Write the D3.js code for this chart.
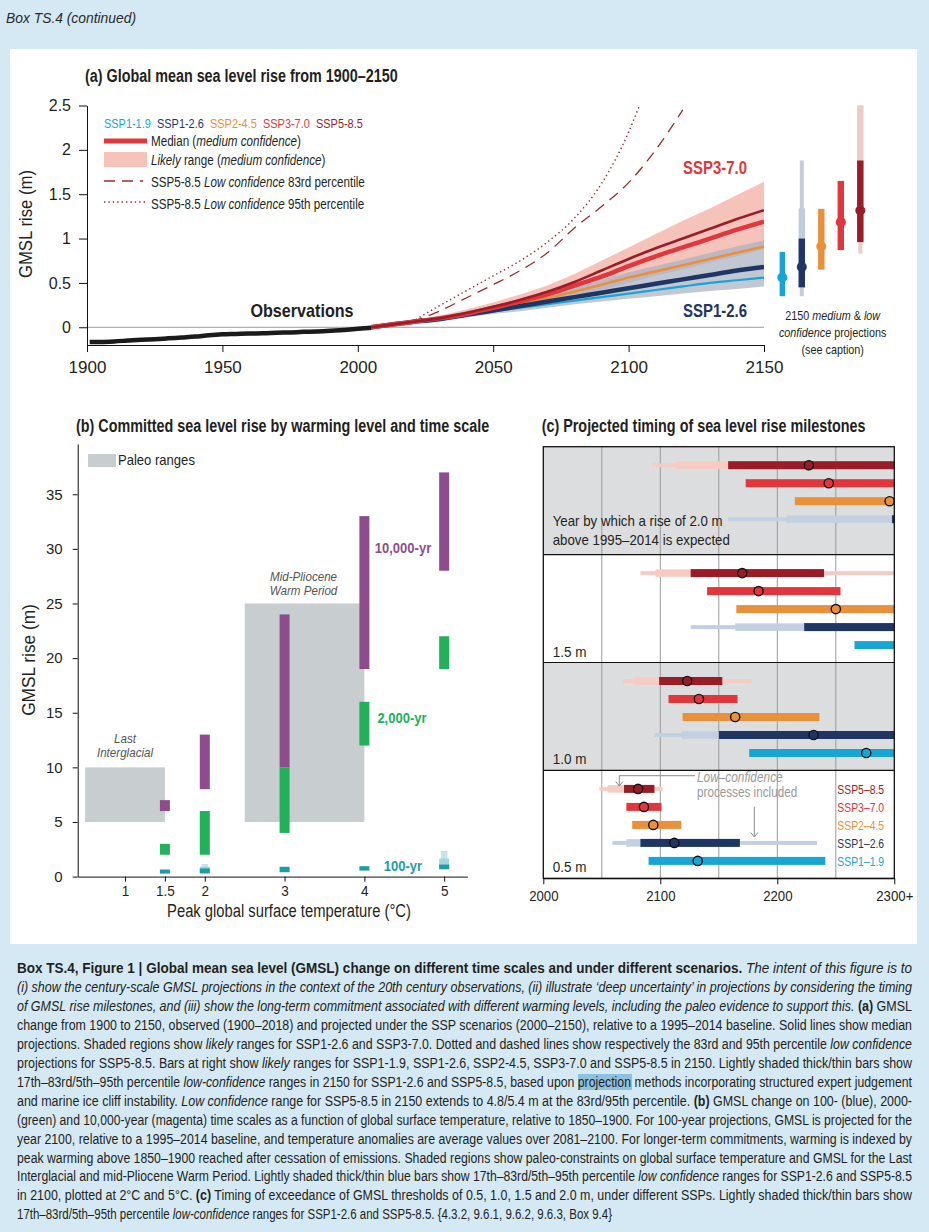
<!DOCTYPE html>
<html>
<head>
<meta charset="utf-8">
<script src="https://cdnjs.cloudflare.com/ajax/libs/d3/7.8.5/d3.min.js"></script>
<style>
body { margin: 0; background: #d5e9f4; }
svg { display: block; }
</style>
</head>
<body>
<div class="graphic"></div>
<script>
var NARROW = '"Liberation Sans Narrow", "Arial Narrow", "Liberation Sans", Arial, sans-serif';
var ARIAL = '"Liberation Sans", Arial, sans-serif';
var INK = "#231f20";

// ---------- panel (a) data ----------
var ssps = ["SSP1-1.9", "SSP1-2.6", "SSP2-4.5", "SSP3-7.0", "SSP5-8.5"];
var sspColors = ["#17a6d3", "#1f3563", "#e9903a", "#e0363c", "#991d27"];
var aYTicks = [0, 0.5, 1, 1.5, 2, 2.5];
var aXTicks = [1900, 1950, 2000, 2050, 2100, 2150];

var obsYears = [1901, 1905, 1910, 1915, 1920, 1925, 1930, 1935, 1940, 1945, 1950, 1955, 1960, 1965, 1970, 1975, 1980, 1985, 1990, 1995, 2000, 2005];
var obsValues = [-0.165, -0.165, -0.16, -0.15, -0.14, -0.135, -0.125, -0.115, -0.105, -0.09, -0.08, -0.075, -0.07, -0.068, -0.062, -0.058, -0.052, -0.048, -0.04, -0.03, -0.018, -0.005];

var projYears = [2005, 2020, 2030, 2040, 2050, 2060, 2070, 2080, 2090, 2100, 2110, 2120, 2130, 2140, 2150];
var med119 = [0, 0.06, 0.09, 0.13, 0.18, 0.22, 0.26, 0.30, 0.34, 0.38, 0.42, 0.46, 0.50, 0.53, 0.56];
var med126 = [0, 0.06, 0.09, 0.14, 0.19, 0.24, 0.29, 0.34, 0.39, 0.44, 0.49, 0.54, 0.59, 0.64, 0.68];
var med245 = [0, 0.06, 0.09, 0.14, 0.20, 0.26, 0.33, 0.40, 0.48, 0.56, 0.63, 0.70, 0.77, 0.84, 0.91];
var med370 = [0, 0.06, 0.10, 0.15, 0.22, 0.29, 0.37, 0.47, 0.57, 0.69, 0.80, 0.90, 1.00, 1.10, 1.19];
var med585 = [0, 0.06, 0.10, 0.16, 0.23, 0.31, 0.40, 0.51, 0.64, 0.77, 0.89, 1.00, 1.11, 1.22, 1.32];
var likely126Lo = [0, 0.04, 0.07, 0.11, 0.15, 0.18, 0.22, 0.26, 0.29, 0.32, 0.35, 0.38, 0.41, 0.43, 0.46];
var likely126Hi = [0, 0.07, 0.12, 0.18, 0.24, 0.30, 0.37, 0.45, 0.53, 0.62, 0.69, 0.76, 0.84, 0.91, 0.98];
var likely370Lo = [0, 0.04, 0.08, 0.12, 0.17, 0.22, 0.28, 0.35, 0.42, 0.50, 0.58, 0.65, 0.73, 0.80, 0.88];
var likely370Hi = [0, 0.08, 0.13, 0.20, 0.28, 0.37, 0.47, 0.60, 0.75, 0.90, 1.05, 1.20, 1.34, 1.49, 1.64];

var lc83Years = [2020, 2030, 2040, 2050, 2060, 2070, 2080, 2090, 2100, 2110, 2120];
var lc83Values = [0.06, 0.18, 0.33, 0.48, 0.64, 0.84, 1.12, 1.36, 1.63, 2.0, 2.45];
var lc95Years = [2020, 2030, 2040, 2050, 2060, 2070, 2080, 2090, 2100, 2104];
var lc95Values = [0.06, 0.24, 0.41, 0.58, 0.75, 0.96, 1.23, 1.62, 2.2, 2.5];

// 2150 bars (likely range and median), then low confidence for SSP1-2.6 / SSP5-8.5
var bar2150Lo = [0.35, 0.45, 0.65, 0.87, 0.96];
var bar2150Hi = [0.85, 1.00, 1.335, 1.65, 1.88];
var bar2150Med = [0.56, 0.68, 0.91, 1.185, 1.316];
var lc2150Ssps = ["SSP1-2.6", "SSP5-8.5"];
var lc2150P5 = [0.35, 0.83], lc2150P17 = [0.45, 0.96], lc2150P83 = [1.34, 4.8], lc2150P95 = [1.88, 5.4];

// ---------- panel (b) data ----------
var warmLevels = [1.5, 2, 3, 4, 5];
var yr10000Lo = [6, 8, 10, 19, 28], yr10000Hi = [7, 13, 24, 33, 37];
var yr2000Lo = [2, 2, 4, 12, 19], yr2000Hi = [3, 6, 10, 16, 22];
var yr100Lo = [0.27, 0.3, 0.4, 0.55, 0.7], yr100Hi = [0.65, 0.75, 0.9, 0.95, 1.1];
var lc100Temps = [2, 5];
var lc100P5 = [0.25, 0.6], lc100P17 = [0.3, 0.65], lc100P83 = [0.9, 1.65], lc100P95 = [1.15, 2.35];
var paleoLines = [["Last", "Interglacial"], ["Mid-Pliocene", "Warm Period"]];
var paleoTLo = [0.5, 2.5], paleoTHi = [1.5, 4.0], paleoGLo = [5, 5], paleoGHi = [10, 25];
var bXTicks = [1, 1.5, 2, 3, 4, 5];
var bYTicks = [0, 5, 10, 15, 20, 25, 30, 35];

// ---------- panel (c) data ----------
var milestones = ["2.0 m", "1.5 m", "1.0 m", "0.5 m"];
var cXTicks = [2000, 2100, 2200, 2300];
var cXLabels = ["2000", "2100", "2200", "2300+"];
var cGrid = [2050, 2100, 2150, 2200, 2250];
// likely range start / end and median year of exceedance (2300 = 2300 or later)
var t119Start = [null, 2266, 2176, 2090], t119End = [null, 2300, 2300, 2241], t119Med = [null, null, 2276, 2132];
var t126Start = [2298, 2223, 2150, 2083], t126End = [2300, 2300, 2300, 2168], t126Med = [null, null, 2231, 2112];
var t245Start = [2215, 2165, 2119, 2076], t245End = [2300, 2300, 2236, 2118], t245Med = [2296, 2250, 2164, 2094];
var t370Start = [2173, 2140, 2107, 2071], t370End = [2300, 2254, 2166, 2101], t370Med = [2244, 2184, 2133, 2086];
var t585Start = [2158, 2126, 2099, 2069], t585End = [2300, 2240, 2153, 2095], t585Med = [2227, 2170, 2123, 2081];
// low confidence percentiles
var lc126P5 = [2158, 2126, 2095, 2059], lc126P17 = [2208, 2164, 2118, 2071], lc126P83 = [2300, 2300, 2300, 2160], lc126P95 = [2300, 2300, 2300, 2234];
var lc585P5 = [2093, 2083, 2068, 2048], lc585P17 = [2113, 2096, 2077, 2055], lc585P83 = [2300, 2230, 2150, 2090], lc585P95 = [2300, 2300, 2178, 2102];

// ---------- caption ----------
var captionLines = [
	[["b", "Box TS.4, Figure 1 | Global mean sea level (GMSL) change on different time scales and under different scenarios."], ["i", " The intent of this figure is to"]],
	[["i", "(i) show the century-scale GMSL projections in the context of the 20th century observations, (ii) illustrate \u2018deep uncertainty\u2019 in projections by considering the timing"]],
	[["i", "of GMSL rise milestones, and (iii) show the long-term commitment associated with different warming levels, including the paleo evidence to support this. "], ["b", "(a)"], ["n", " GMSL"]],
	[["n", "change from 1900 to 2150, observed (1900\u20132018) and projected under the SSP scenarios (2000\u20132150), relative to a 1995\u20132014 baseline. Solid lines show median"]],
	[["n", "projections. Shaded regions show "], ["i", "likely"], ["n", " ranges for SSP1-2.6 and SSP3-7.0. Dotted and dashed lines show respectively the 83rd and 95th percentile "], ["i", "low confidence"]],
	[["n", "projections for SSP5-8.5. Bars at right show "], ["i", "likely"], ["n", " ranges for SSP1-1.9, SSP1-2.6, SSP2-4.5, SSP3-7.0 and SSP5-8.5 in 2150. Lightly shaded thick/thin bars show"]],
	[["n", "17th\u201383rd/5th\u201395th percentile "], ["i", "low-confidence"], ["n", " ranges in 2150 for SSP1-2.6 and SSP5-8.5, based upon projection methods incorporating structured expert judgement"]],
	[["n", "and marine ice cliff instability. "], ["i", "Low confidence"], ["n", " range for SSP5-8.5 in 2150 extends to 4.8/5.4 m at the 83rd/95th percentile. "], ["b", "(b)"], ["n", " GMSL change on 100- (blue), 2000-"]],
	[["n", "(green) and 10,000-year (magenta) time scales as a function of global surface temperature, relative to 1850\u20131900. For 100-year projections, GMSL is projected for the"]],
	[["n", "year 2100, relative to a 1995\u20132014 baseline, and temperature anomalies are average values over 2081\u20132100. For longer-term commitments, warming is indexed by"]],
	[["n", "peak warming above 1850\u20131900 reached after cessation of emissions. Shaded regions show paleo-constraints on global surface temperature and GMSL for the Last"]],
	[["n", "Interglacial and mid-Pliocene Warm Period. Lightly shaded thick/thin blue bars show 17th\u201383rd/5th\u201395th percentile "], ["i", "low confidence"], ["n", " ranges for SSP1-2.6 and SSP5-8.5"]],
	[["n", "in 2100, plotted at 2\u00b0C and 5\u00b0C. "], ["b", "(c)"], ["n", " Timing of exceedance of GMSL thresholds of 0.5, 1.0, 1.5 and 2.0 m, under different SSPs. Lightly shaded thick/thin bars show"]],
	[["n", "17th\u201383rd/5th\u201395th percentile "], ["i", "low-confidence"], ["n", " ranges for SSP1-2.6 and SSP5-8.5. {4.3.2, 9.6.1, 9.6.2, 9.6.3, Box 9.4}"]]
];

var width = 929;
var height = 1232;
var svg = d3.select("div.graphic").append("svg")
	.attr("width", width)
	.attr("height", height);

svg.append("rect").attr("width", width).attr("height", height).attr("fill", "#d5e9f4");
svg.append("rect").attr("x", 10).attr("y", 49).attr("width", 907).attr("height", 895).attr("fill", "#fff");

// text with mixed normal / italic / bold pieces
function richText(g, x, y, segs, size, family, anchor) {
	var t = g.append("text")
		.attr("x", x).attr("y", y)
		.attr("font-size", size)
		.attr("font-family", family || NARROW)
		.attr("text-anchor", anchor || "start")
		.attr("fill", INK);
	segs.forEach(function(s) {
		t.append("tspan")
			.attr("font-style", s[0] == "i" ? "italic" : null)
			.attr("font-weight", s[0] == "b" ? "bold" : null)
			.text(s[1]);
	});
	return t;
}
function plainText(g, x, y, str, size, opts) {
	opts = opts || {};
	return g.append("text")
		.attr("x", x).attr("y", y)
		.attr("font-size", size)
		.attr("font-family", opts.family || NARROW)
		.attr("font-weight", opts.bold ? "bold" : null)
		.attr("font-style", opts.italic ? "italic" : null)
		.attr("text-anchor", opts.anchor || "start")
		.attr("fill", opts.color || INK)
		.text(str);
}
// no narrow face installed: condense the regular face horizontally
function squeeze(sel, f) {
	sel.each(function() {
		var t = d3.select(this);
		var L = this.getComputedTextLength();
		var anchor = window.getComputedStyle(this).textAnchor;
		var x = +t.attr("x") || 0;
		if (anchor == "middle") x -= L * f / 2;
		else if (anchor == "end") x -= L * f;
		t.attr("x", x).attr("text-anchor", "start")
			.attr("textLength", L * f).attr("lengthAdjust", "spacingAndGlyphs");
	});
	return sel;
}

function styleAxis(g, size, family) {
	g.attr("font-size", size).attr("font-family", family);
	g.selectAll("text").attr("fill", INK);
	g.selectAll("line, path").attr("stroke", "#111");
}

svg.append("text").attr("x", 6).attr("y", 23)
	.attr("font-family", NARROW).attr("font-style", "italic").attr("font-size", 15)
	.attr("fill", "#2a2a2a").attr("textLength", 130).attr("lengthAdjust", "spacingAndGlyphs")
	.text("Box TS.4 (continued)");

// ================= panel (a) =================
var xA = d3.scaleLinear().domain([1900, 2150]).range([87, 764]);
var yA = d3.scaleLinear().domain([-0.2, 2.5]).range([345, 105.5]);
var pa = svg.append("g");

squeeze(plainText(pa, 85, 82, "(a) Global mean sea level rise from 1900\u20132150", 17.5, { bold: true }), 0.82);

pa.append("line")
	.attr("x1", xA(1900)).attr("x2", xA(2150))
	.attr("y1", yA(0)).attr("y2", yA(0))
	.attr("stroke", "#9a9a9a").attr("stroke-width", 1);

var clipA = svg.append("clipPath").attr("id", "clipA");
clipA.append("rect").attr("x", xA(1900)).attr("y", yA(2.5)).attr("width", xA(2150) - xA(1900)).attr("height", yA(-0.2) - yA(2.5));
var plotA = pa.append("g").attr("clip-path", "url(#clipA)");

var area = d3.area()
	.x(function(d) { return xA(d[0]); })
	.y0(function(d) { return yA(d[1]); })
	.y1(function(d) { return yA(d[2]); });
plotA.append("path")
	.attr("d", area(projYears.map(function(yr, i) { return [yr, likely370Lo[i], likely370Hi[i]]; })))
	.attr("fill", "#f6c3bb");
plotA.append("path")
	.attr("d", area(projYears.map(function(yr, i) { return [yr, likely126Lo[i], likely126Hi[i]]; })))
	.attr("fill", "#a7b0c2").attr("fill-opacity", 0.7);

var line = d3.line()
	.x(function(d) { return xA(d[0]); })
	.y(function(d) { return yA(d[1]); })
	.curve(d3.curveMonotoneX);

plotA.append("path")
	.attr("d", line(lc95Years.map(function(yr, i) { return [yr, lc95Values[i]]; })))
	.attr("fill", "none").attr("stroke", "#9c2b2f").attr("stroke-width", 1.4).attr("stroke-dasharray", "1.4,3");
plotA.append("path")
	.attr("d", line(lc83Years.map(function(yr, i) { return [yr, lc83Values[i]]; })))
	.attr("fill", "none").attr("stroke", "#9c2b2f").attr("stroke-width", 1.3).attr("stroke-dasharray", "11,7");

plotA.append("path")
	.attr("d", line(obsYears.map(function(yr, i) { return [yr, obsValues[i]]; })))
	.attr("fill", "none").attr("stroke", "#1b1b1b").attr("stroke-width", 4.5);

var medians = [med119, med126, med245, med370, med585];
var medWidths = [2.2, 4.5, 2.6, 4.5, 2.6];
var medOrder = [0, 2, 1, 3, 4];
medOrder.forEach(function(k) {
	plotA.append("path")
		.attr("d", line(projYears.map(function(yr, i) { return [yr, medians[k][i]]; })))
		.attr("fill", "none").attr("stroke", sspColors[k]).attr("stroke-width", medWidths[k]);
});

var axA = pa.append("g").attr("transform", "translate(" + xA(1900) + ",0)")
	.call(d3.axisLeft(yA).tickValues(aYTicks).tickFormat(d3.format("")).tickSize(8).tickSizeOuter(0).tickPadding(8));
styleAxis(axA, 16, ARIAL);
var axAx = pa.append("g").attr("transform", "translate(0," + yA(-0.2) + ")")
	.call(d3.axisBottom(xA).tickValues(aXTicks).tickFormat(d3.format("d")).tickSize(7).tickSizeOuter(0).tickPadding(9));
styleAxis(axAx, 17, ARIAL);

squeeze(pa.append("text")
	.attr("transform", "translate(32," + 224 + ") rotate(-90)")
	.attr("text-anchor", "middle").attr("font-family", NARROW).attr("font-size", 18).attr("fill", INK)
	.text("GMSL rise (m)"), 0.93);

// legend
ssps.forEach(function(s, i) {
	squeeze(plainText(pa, 104 + i * 53, 128, s, 13.5, { color: sspColors[i] }), 0.81);
});
pa.append("line").attr("x1", 104).attr("x2", 147).attr("y1", 141).attr("y2", 141)
	.attr("stroke", sspColors[3]).attr("stroke-width", 5);
squeeze(richText(pa, 151, 146, [["n", "Median ("], ["i", "medium confidence"], ["n", ")"]], 14), 0.83);
pa.append("rect").attr("x", 104).attr("y", 152).attr("width", 43).attr("height", 15).attr("fill", "#f6c3bb");
squeeze(richText(pa, 151, 165, [["i", "Likely"], ["n", " range ("], ["i", "medium confidence"], ["n", ")"]], 14), 0.83);
pa.append("line").attr("x1", 104).attr("x2", 143).attr("y1", 181).attr("y2", 181)
	.attr("stroke", "#9c2b2f").attr("stroke-width", 1.3).attr("stroke-dasharray", "11,7");
squeeze(richText(pa, 151, 187, [["n", "SSP5-8.5 "], ["i", "Low confidence"], ["n", " 83rd percentile"]], 14), 0.83);
pa.append("line").attr("x1", 104).attr("x2", 146).attr("y1", 202).attr("y2", 202)
	.attr("stroke", "#9c2b2f").attr("stroke-width", 1.4).attr("stroke-dasharray", "1.4,3");
squeeze(richText(pa, 151, 209, [["n", "SSP5-8.5 "], ["i", "Low confidence"], ["n", " 95th percentile"]], 14), 0.83);

squeeze(plainText(pa, 302, 317, "Observations", 19, { bold: true, anchor: "middle" }), 0.85);
squeeze(plainText(pa, 715, 174, "SSP3-7.0", 18, { bold: true, anchor: "middle", color: sspColors[3] }), 0.83);
squeeze(plainText(pa, 715, 317, "SSP1-2.6", 18, { bold: true, anchor: "middle", color: sspColors[1] }), 0.83);

// 2150 bars
var xBars = d3.scalePoint().domain(ssps).range([782.3, 860.3]);
var lcLight = { "SSP1-2.6": "#c3cdd9", "SSP5-8.5": "#ecccc6" };
svg.append("clipPath").attr("id", "clipBars").append("rect")
	.attr("x", 770).attr("y", yA(2.5)).attr("width", 110).attr("height", yA(-0.2) - yA(2.5));
var barsA = pa.append("g").attr("clip-path", "url(#clipBars)");
lc2150Ssps.forEach(function(s, i) {
	var cx = xBars(s);
	barsA.append("rect").attr("x", cx - 2).attr("width", 4)
		.attr("y", yA(lc2150P95[i])).attr("height", yA(lc2150P5[i]) - yA(lc2150P95[i]))
		.attr("fill", lcLight[s]);
	barsA.append("rect").attr("x", cx - 3.2).attr("width", 6.4)
		.attr("y", yA(lc2150P83[i])).attr("height", yA(lc2150P17[i]) - yA(lc2150P83[i]))
		.attr("fill", lcLight[s]);
});
ssps.forEach(function(s, i) {
	var cx = xBars(s);
	var w = i == 0 ? 5.4 : 6.4;
	barsA.append("rect").attr("x", cx - w / 2).attr("width", w)
		.attr("y", yA(bar2150Hi[i])).attr("height", yA(bar2150Lo[i]) - yA(bar2150Hi[i]))
		.attr("fill", sspColors[i]);
	barsA.append("circle").attr("cx", cx).attr("cy", yA(bar2150Med[i])).attr("r", 5)
		.attr("fill", sspColors[i]);
});
squeeze(richText(pa, 832.7, 320, [["n", "2150 "], ["i", "medium"], ["n", " & "], ["i", "low"]], 13.5, NARROW, "middle"), 0.8);
squeeze(richText(pa, 832.7, 337, [["i", "confidence"], ["n", " projections"]], 13.5, NARROW, "middle"), 0.8);
squeeze(richText(pa, 832.7, 354, [["n", "(see caption)"]], 13.5, NARROW, "middle"), 0.8);

// ================= panel (b) =================
var xB = d3.scaleLinear().domain([0.407, 5.29]).range([77.7, 467.3]);
var yB = d3.scaleLinear().domain([0, 39.6]).range([876.6, 444]);
var pb = svg.append("g");
var purple = "#8d4d8c", green = "#22b05a", teal = "#1e9ca6";

squeeze(plainText(pb, 76, 432, "(b) Committed sea level rise by warming level and time scale", 17.5, { bold: true }), 0.82);

paleoLines.forEach(function(lbl, i) {
	pb.append("rect")
		.attr("x", xB(paleoTLo[i])).attr("width", xB(paleoTHi[i]) - xB(paleoTLo[i]))
		.attr("y", yB(paleoGHi[i])).attr("height", yB(paleoGLo[i]) - yB(paleoGHi[i]))
		.attr("fill", "#c8cdd0");
	var cx = (xB(paleoTLo[i]) + xB(paleoTHi[i])) / 2 + (i == 0 ? 0 : -1);
	lbl.forEach(function(t, j) {
		squeeze(plainText(pb, cx, yB(paleoGHi[i]) - 22 + j * 14 - (i == 0 ? 2 : 0), t, 13.5,
			{ italic: true, anchor: "middle", color: "#555" }), 0.86);
	});
});
pb.append("rect").attr("x", 88).attr("y", 454).attr("width", 28).attr("height", 13).attr("fill", "#c8cdd0");
squeeze(plainText(pb, 118, 465, "Paleo ranges", 14.5), 0.9);

function vbar(g, t, lo, hi, w, color) {
	g.append("rect").attr("x", xB(t) - w / 2).attr("width", w)
		.attr("y", yB(hi)).attr("height", yB(lo) - yB(hi)).attr("fill", color);
}
warmLevels.forEach(function(t, i) {
	vbar(pb, t, yr10000Lo[i], yr10000Hi[i], 10, purple);
	vbar(pb, t, yr2000Lo[i], yr2000Hi[i], 10, green);
});
lc100Temps.forEach(function(t, i) {
	vbar(pb, t, lc100P5[i], lc100P95[i], 6.5, "#c4e4e7");
	vbar(pb, t, lc100P17[i], lc100P83[i], 10, "#a6d6db");
});
warmLevels.forEach(function(t, i) {
	vbar(pb, t, yr100Lo[i], yr100Hi[i], 10, teal);
});

squeeze(plainText(pb, 403, 553, "10,000-yr", 15.5, { bold: true, anchor: "middle", color: purple }), 0.84);
squeeze(plainText(pb, 402, 723, "2,000-yr", 15.5, { bold: true, anchor: "middle", color: green }), 0.84);
squeeze(plainText(pb, 403, 871, "100-yr", 15.5, { bold: true, anchor: "middle", color: teal }), 0.84);

var axBy = pb.append("g").attr("transform", "translate(" + xB.range()[0] + ",0)")
	.call(d3.axisLeft(yB).tickValues(bYTicks).tickSize(5).tickSizeOuter(0).tickPadding(10));
styleAxis(axBy, 15, ARIAL);
var axBx = pb.append("g").attr("transform", "translate(0," + yB.range()[0] + ")")
	.call(d3.axisBottom(xB).tickValues(bXTicks).tickFormat(d3.format("")).tickSize(5).tickSizeOuter(0).tickPadding(4));
styleAxis(axBx, 15, ARIAL);
squeeze(axBx.selectAll(".tick text"), 0.9);
squeeze(pb.append("text")
	.attr("transform", "translate(35,660) rotate(-90)")
	.attr("text-anchor", "middle").attr("font-family", NARROW).attr("font-size", 18).attr("fill", INK)
	.text("GMSL rise (m)"), 0.96);
squeeze(plainText(pb, 289, 917, "Peak global surface temperature (\u00b0C)", 18, { anchor: "middle" }), 0.82);

// ================= panel (c) =================
var xC = d3.scaleLinear().domain([2000, 2300]).range([543.3, 894.3]);
var rowC = d3.scaleBand().domain(milestones).range([446.7, 878.3]);
var cOrder = ["SSP5-8.5", "SSP3-7.0", "SSP2-4.5", "SSP1-2.6", "SSP1-1.9"];
var sspC = d3.scaleBand().domain(cOrder).range([9.5, 99.5]);
var pc = svg.append("g");

squeeze(plainText(pc, 541.7, 432, "(c) Projected timing of sea level rise milestones", 17.5, { bold: true }), 0.82);

milestones.forEach(function(m, i) {
	pc.append("rect").attr("x", xC(2000)).attr("width", xC(2300) - xC(2000))
		.attr("y", rowC(m)).attr("height", rowC.bandwidth())
		.attr("fill", i % 2 == 0 ? "#dcdddf" : "#fff");
});
cGrid.forEach(function(yr) {
	pc.append("line").attr("x1", xC(yr)).attr("x2", xC(yr))
		.attr("y1", rowC.range()[0]).attr("y2", rowC.range()[1])
		.attr("stroke", "#9a9a9a").attr("stroke-width", 1);
});

var tStart = [t119Start, t126Start, t245Start, t370Start, t585Start];
var tEnd = [t119End, t126End, t245End, t370End, t585End];
var tMed = [t119Med, t126Med, t245Med, t370Med, t585Med];
var lcRows = [
	{ ssp: "SSP1-2.6", p5: lc126P5, p17: lc126P17, p83: lc126P83, p95: lc126P95, color: "#c3d0e1" },
	{ ssp: "SSP5-8.5", p5: lc585P5, p17: lc585P17, p83: lc585P83, p95: lc585P95, color: "#f6cbc4" }
];
function hbar(g, y0, a, b, h, color) {
	var x0 = xC(Math.min(a, 2300)), x1 = xC(Math.min(b, 2300));
	g.append("rect").attr("x", x0).attr("width", Math.max(0, x1 - x0))
		.attr("y", y0 - h / 2).attr("height", h).attr("fill", color);
}
milestones.forEach(function(m, i) {
	lcRows.forEach(function(r) {
		var yc = rowC(m) + sspC(r.ssp) + sspC.bandwidth() / 2;
		hbar(pc, yc, r.p5[i], r.p95[i], 4, r.color);
		hbar(pc, yc, r.p17[i], r.p83[i], 7.5, r.color);
	});
	ssps.forEach(function(s, k) {
		if (tStart[k][i] == null) return;
		var yc = rowC(m) + sspC(s) + sspC.bandwidth() / 2;
		hbar(pc, yc, tStart[k][i], tEnd[k][i], 8, sspColors[k]);
	});
	ssps.forEach(function(s, k) {
		if (tMed[k][i] == null) return;
		var yc = rowC(m) + sspC(s) + sspC.bandwidth() / 2;
		pc.append("circle").attr("cx", xC(tMed[k][i])).attr("cy", yc).attr("r", 4.6)
			.attr("fill", sspColors[k]).attr("stroke", "#111").attr("stroke-width", 1.4);
	});
});
milestones.forEach(function(m, i) {
	if (i > 0) {
		pc.append("line").attr("x1", xC(2000)).attr("x2", xC(2300))
			.attr("y1", rowC(m)).attr("y2", rowC(m)).attr("stroke", "#111").attr("stroke-width", 1.2);
		squeeze(plainText(pc, 552.7, rowC(m) + rowC.bandwidth() - 6, m, 15), 0.9);
	}
});
squeeze(plainText(pc, 552.7, 526, "Year by which a rise of 2.0 m", 15), 0.885);
squeeze(plainText(pc, 552.7, 544.5, "above 1995\u20132014 is expected", 15), 0.885);
pc.append("rect").attr("x", xC(2000)).attr("width", xC(2300) - xC(2000))
	.attr("y", rowC.range()[0]).attr("height", rowC.range()[1] - rowC.range()[0])
	.attr("fill", "none").attr("stroke", "#111").attr("stroke-width", 1.3);

var axC = pc.append("g").attr("transform", "translate(0," + rowC.range()[1] + ")")
	.call(d3.axisBottom(xC).tickValues(cXTicks).tickFormat(function(d, i) { return cXLabels[i]; }).tickSize(6).tickSizeOuter(0).tickPadding(6));
styleAxis(axC, 15, ARIAL);
squeeze(axC.selectAll(".tick text"), 0.88);

// legend inside 0.5 m row
var lastRow = milestones[3];
ssps.forEach(function(s, k) {
	squeeze(plainText(pc, 837.3, rowC(lastRow) + sspC(s) + sspC.bandwidth() / 2 + 5,
		s.replace("-", "\u2013"), 13, { color: sspColors[k] }), 0.8);
});
squeeze(plainText(pc, 697, 782, "Low\u2013confidence", 15, { italic: true, color: "#9a9a9a" }), 0.79);
squeeze(plainText(pc, 697, 797, "processes included", 15, { color: "#9a9a9a" }), 0.78);
pc.append("path").attr("d", "M695,775.7H619.3V786M615.8,781.5L619.3,786L622.8,781.5")
	.attr("fill", "none").attr("stroke", "#8a8a8a").attr("stroke-width", 1);
pc.append("path").attr("d", "M754.3,806.7V837M750.8,832.5L754.3,837L757.8,832.5")
	.attr("fill", "none").attr("stroke", "#8a8a8a").attr("stroke-width", 1);

// ================= caption =================
svg.append("rect").attr("x", 578).attr("y", 1074).attr("width", 54).attr("height", 16).attr("fill", "#8dc1dd");
captionLines.forEach(function(segs, i) {
	var t = richText(svg, 17, 973 + i * 18.95, segs, 14);
	var last = i == captionLines.length - 1;
	t.attr("textLength", last ? 595 : 895).attr("lengthAdjust", "spacingAndGlyphs");
});
</script>
</body>
</html>
